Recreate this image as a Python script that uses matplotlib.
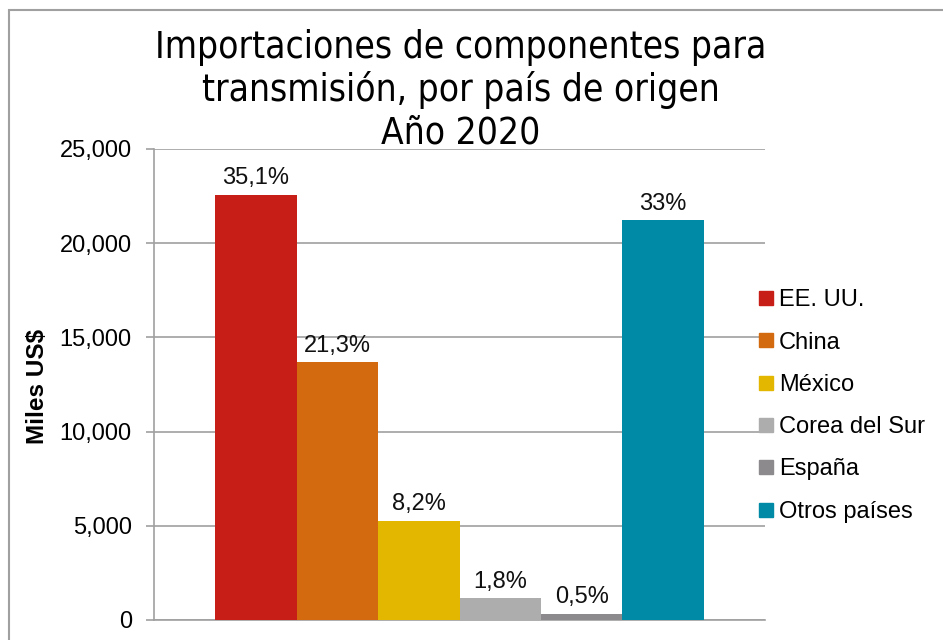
import numpy as np
import matplotlib
matplotlib.use('Agg')
import matplotlib.pyplot as plt
from matplotlib.lines import Line2D
from matplotlib.patches import Rectangle
from matplotlib.ticker import FuncFormatter
from matplotlib import font_manager

# DATA
paises = ['EE. UU.', 'China', 'México', 'Corea del Sur', 'España', 'Otros países']
valores = [22560, 13690, 5270, 1160, 320, 21210]
etiquetas = ['35,1%', '21,3%', '8,2%', '1,8%', '0,5%', '33%']
colores = ['#C81E18', '#D36A0F', '#E3B700', '#ADADAD', '#8C8A8D', '#008AA5']
yticks = [0, 5000, 10000, 15000, 20000, 25000]

plt.rcParams['font.family'] = ['Liberation Sans', 'DejaVu Sans']
GRIS = '#A0A0A0'

# fuente estrecha (regular) para el título, si existe
cond = [f for f in font_manager.fontManager.ttflist
        if 'condensed' in str(f.stretch).lower() and f.style == 'normal'
        and f.weight in (400, 'normal', 'regular', 'book')
        and 'mono' not in f.name.lower() and 'serif' not in f.name.lower()]

fig = plt.figure(figsize=(9.43, 6.4), dpi=100)
ax = fig.add_axes([154/943, 1-620/640, (765-154)/943, (620-149)/640])

n = len(paises)
w = 0.8 / n
for i in range(n):
    x = (i - (n - 1) / 2) * w
    b = ax.bar(x, valores[i], width=w, color=colores[i], label=paises[i], zorder=3)
    ax.bar_label(b, labels=[etiquetas[i]], padding=4, fontsize=17, color='#111111')

ax.set_xlim(-0.5, 0.5)
ax.set_ylim(0, 25000)
ax.set_yticks(yticks)
ax.yaxis.set_major_formatter(FuncFormatter(lambda v, p: '{:,.0f}'.format(v)))
ax.set_xticks([])
ax.tick_params(axis='y', labelsize=17, length=6, width=1.2, color=GRIS, pad=10)
ax.grid(axis='y', color=GRIS, linewidth=1.2, zorder=0)
for s in ['top', 'right']:
    ax.spines[s].set_visible(False)
for s in ['left', 'bottom']:
    ax.spines[s].set_color(GRIS)
    ax.spines[s].set_linewidth(1.2)

fig.text(38/943, 1-386/640, 'Miles US$', rotation=90, fontsize=17.5, fontweight='bold',
         ha='center', va='center')

if cond:
    tf = font_manager.FontProperties(fname=cond[0].fname, size=26.6)
else:
    tf = font_manager.FontProperties(family='Liberation Sans', size=23)
fig.text(461/943, 1-29/640,
         'Importaciones de componentes para\ntransmisión, por país de origen\nAño 2020',
         ha='center', va='top', linespacing=1.17, fontproperties=tf)

handles = [Line2D([], [], marker='s', linestyle='none', markersize=9.5,
                  markerfacecolor=c, markeredgecolor=c) for c in colores]
fig.legend(handles, paises, loc='center left', bbox_to_anchor=(759/943, 1-406/640),
           frameon=False, fontsize=17, handlelength=0.6, handletextpad=0.25,
           borderpad=0, borderaxespad=0, labelspacing=0.86)

# marco del gráfico
fig.patches.append(Rectangle((9/943, -0.1), 1.2, 1.1 - 10/640, transform=fig.transFigure,
                             fill=False, edgecolor=GRIS, linewidth=1.5))

plt.savefig('out.png', dpi=100)
